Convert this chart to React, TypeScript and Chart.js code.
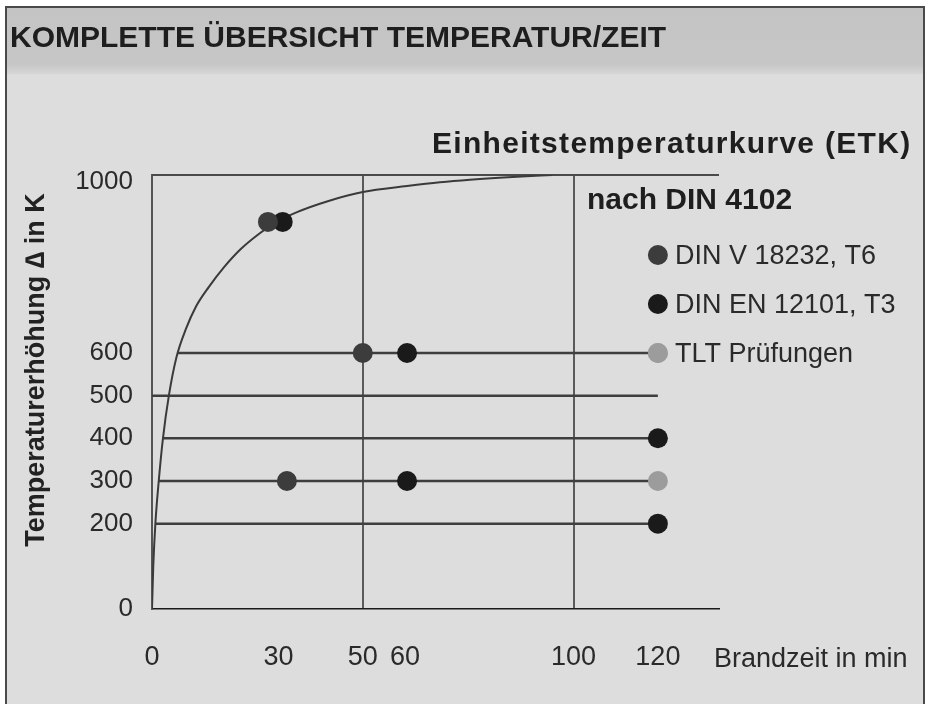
import React, { useEffect, useRef } from "react";
import { Chart, registerables } from "chart.js";

Chart.register(...registerables);

const TITLE = "KOMPLETTE ÜBERSICHT TEMPERATUR/ZEIT";
const CURVE_TITLE = "Einheitstemperaturkurve (ETK)";
const NORM_TITLE = "nach DIN 4102";
const X_LABEL = "Brandzeit in min";
const Y_LABEL = "Temperaturerhöhung \u2206 in K";

const X_TICKS = [0, 30, 50, 60, 100, 120];
const Y_TICKS = [0, 200, 300, 400, 500, 600, 1000];
const X_GRID = [50, 100];

// Einheitstemperaturkurve (schematic)
const ETK_TIME = [0, 0.3, 0.8, 1.6, 2.6, 4.0, 5.8, 8.0, 10.5, 13.5, 17, 21, 25.5, 29.2, 34.4, 41.5, 50, 60.5, 68.3, 75.4, 86.6, 95];
const ETK_TEMP = [0, 100, 200, 300, 400, 500, 590, 655, 710, 755, 800, 843, 880, 905, 930, 955, 977, 991, 1000, 1006, 1013, 1017];

// horizontal test levels
const LEVELS = [600, 500, 400, 300, 200];
const LEVEL_START = [6.1, 0, 2.6, 1.6, 0.8];
const LEVEL_END = [120, 120, 120, 120, 120];

// test points
const SERIES_NAMES = ["DIN V 18232, T6", "DIN EN 12101, T3", "TLT Prüfungen"];
const SERIES_COLORS = ["#3c3c3c", "#1a1a1a", "#9c9c9c"];
const DINV_TIME = [27.5, 50, 32];
const DINV_TEMP = [907, 600, 300];
const DINEN_TIME = [31, 60.5, 60.5, 120, 120];
const DINEN_TEMP = [907, 600, 300, 400, 200];
const TLT_TIME = [120, 120];
const TLT_TEMP = [600, 300];

const FONT = '"Liberation Sans", Arial, Helvetica, sans-serif';

const zip = (xs: number[], ys: number[]) => xs.map((x, i) => ({ x, y: ys[i] }));

export default function App() {
  const ref = useRef<HTMLCanvasElement | null>(null);

  useEffect(() => {
    if (!ref.current) return;

    const textPlugin = {
      id: "texts",
      afterDraw(chart: any) {
        const ctx = chart.ctx as CanvasRenderingContext2D;
        const xs = chart.scales.x;
        const ys = chart.scales.y;
        ctx.save();
        ctx.fillStyle = "#1e1e1e";
        ctx.textAlign = "left";
        ctx.textBaseline = "alphabetic";
        ctx.font = `bold 30px ${FONT}`;
        ctx.fillText(TITLE, 10, 47);
        (ctx as any).letterSpacing = "1.3px";
        ctx.fillText(CURVE_TITLE, 432, 153);
        (ctx as any).letterSpacing = "0px";
        ctx.fillText(NORM_TITLE, 587, 209);

        // legend
        const mx = xs.getPixelForValue(120);
        const baseY = ys.getPixelForValue(600);
        ctx.font = `27px ${FONT}`;
        SERIES_NAMES.forEach((name, i) => {
          const my = baseY - (SERIES_NAMES.length - 1 - i) * 49;
          ctx.beginPath();
          ctx.fillStyle = SERIES_COLORS[i];
          ctx.arc(mx, my, 10, 0, Math.PI * 2);
          ctx.fill();
          ctx.fillStyle = "#2a2a2a";
          ctx.fillText(name, 675, my + 9);
        });

        // x axis label
        ctx.fillStyle = "#2a2a2a";
        ctx.fillText(X_LABEL, 714, 667);

        // y axis label
        ctx.translate(44, 370);
        ctx.rotate(-Math.PI / 2);
        ctx.textAlign = "center";
        ctx.font = `bold 27px ${FONT}`;
        ctx.fillStyle = "#222";
        ctx.fillText(Y_LABEL, 0, 0);
        ctx.restore();
      },
    };

    const pointDs = (label: string, data: any[], color: string) => ({
      label,
      data,
      showLine: false,
      pointRadius: 10,
      pointHoverRadius: 10,
      pointBackgroundColor: color,
      pointBorderWidth: 0,
      borderColor: color,
      backgroundColor: color,
      order: 0,
    });

    const lineDatasets = LEVELS.map((lv, i) => ({
      label: `level ${lv}`,
      data: [
        { x: LEVEL_START[i], y: lv },
        { x: LEVEL_END[i], y: lv },
      ],
      borderColor: "#3e3e3e",
      borderWidth: 2.5,
      pointRadius: 0,
      order: 2,
    }));

    const chart = new Chart(ref.current, {
      type: "line",
      data: {
        datasets: [
          pointDs(SERIES_NAMES[0], zip(DINV_TIME, DINV_TEMP), SERIES_COLORS[0]),
          pointDs(SERIES_NAMES[1], zip(DINEN_TIME, DINEN_TEMP), SERIES_COLORS[1]),
          pointDs(SERIES_NAMES[2], zip(TLT_TIME, TLT_TEMP), SERIES_COLORS[2]),
          {
            label: "ETK",
            data: zip(ETK_TIME, ETK_TEMP),
            borderColor: "#3a3a3a",
            borderWidth: 2,
            pointRadius: 0,
            cubicInterpolationMode: "monotone",
            order: 1,
          } as any,
          ...lineDatasets,
        ],
      },
      options: {
        responsive: false,
        animation: false,
        events: [],
        layout: { padding: { left: 0, top: 175, right: 212, bottom: 0 } },
        plugins: {
          legend: { display: false },
          tooltip: { enabled: false },
          title: { display: false },
        },
        scales: {
          x: {
            type: "linear",
            min: 0,
            max: 134.5,
            afterBuildTicks: (scale: any) => {
              scale.ticks = X_TICKS.map((v) => ({ value: v }));
            },
            afterFit: (scale: any) => {
              scale.height = 95;
            },
            ticks: {
              autoSkip: false,
              maxRotation: 0,
              padding: 32,
              color: "#2a2a2a",
              font: { family: FONT, size: 27 },
              callback: (v: any) => String(v),
            },
            grid: {
              drawTicks: false,
              lineWidth: 2,
              color: (c: any) =>
                c.tick && X_GRID.includes(c.tick.value) ? "#5a5a5a" : "rgba(0,0,0,0)",
            },
            border: { display: true, color: "#1a1a1a", width: 1.5 },
          },
          y: {
            type: "linear",
            min: 0,
            max: 1017,
            afterBuildTicks: (scale: any) => {
              scale.ticks = Y_TICKS.map((v) => ({ value: v }));
            },
            afterFit: (scale: any) => {
              scale.width = 152;
            },
            ticks: {
              autoSkip: false,
              padding: 19,
              color: "#2a2a2a",
              font: { family: FONT, size: 26 },
              callback: (v: any) => String(v),
            },
            grid: { display: false, drawTicks: false },
            border: { display: true, color: "#555", width: 2 },
          },
        },
      },
      plugins: [
        textPlugin,
        {
          id: "topFrame",
          beforeDatasetsDraw(chart: any) {
            const { ctx, chartArea } = chart;
            ctx.save();
            ctx.strokeStyle = "#4a4a4a";
            ctx.lineWidth = 2;
            ctx.beginPath();
            ctx.moveTo(chartArea.left, chartArea.top);
            ctx.lineTo(chartArea.right, chartArea.top);
            ctx.stroke();
            ctx.restore();
          },
        },
      ],
    } as any);

    return () => chart.destroy();
  }, []);

  return (
    <div style={{ position: "absolute", left: 0, top: 0, width: 931, height: 704, background: "#ffffff", overflow: "hidden" }}>
      <div
        style={{
          position: "absolute",
          left: 5,
          top: 6,
          width: 916,
          height: 710,
          border: "2px solid #4a4a4a",
          background: "#dddddd",
        }}
      >
        <div
          style={{
            position: "absolute",
            left: 0,
            top: 0,
            right: 0,
            height: 66,
            background: "linear-gradient(to bottom, #c4c4c4 0%, #c6c6c6 85%, #d6d6d6 100%)",
          }}
        />
      </div>
      <canvas ref={ref} width={931} height={704} style={{ position: "absolute", left: 0, top: 0, width: 931, height: 704 }} />
    </div>
  );
}
